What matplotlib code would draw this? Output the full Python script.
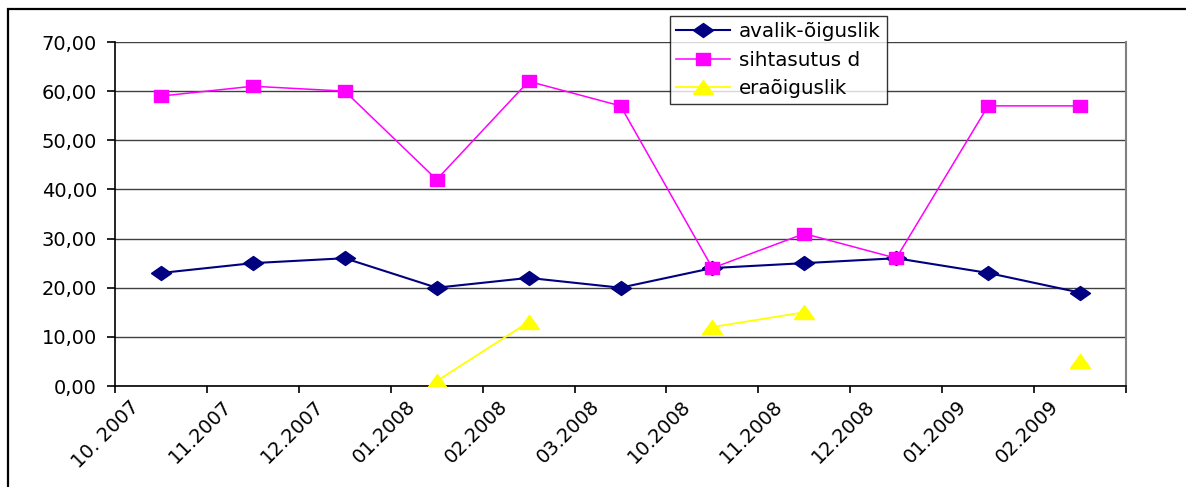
#!/usr/bin/env python3

import matplotlib
matplotlib.use('Agg')
import matplotlib.pyplot as plt
import matplotlib.transforms as mtransforms
from matplotlib.patches import Rectangle
from matplotlib.ticker import FixedLocator, NullFormatter
import numpy as np

months = ['10. 2007', '11.2007', '12.2007', '01.2008', '02.2008', '03.2008',
          '10.2008', '11.2008', '12.2008', '01.2009', '02.2009']
avalik = [23, 25, 26, 20, 22, 20, 24, 25, 26, 23, 19]
sihtasutus = [59, 61, 60, 42, 62, 57, 24, 31, 26, 57, 57]
era = [np.nan, np.nan, np.nan, 1, 13, np.nan, 12, 15, np.nan, np.nan, 5]
series_names = ['avalik-õiguslik', 'sihtasutus d', 'eraõiguslik']
y_ticks = [0, 10, 20, 30, 40, 50, 60, 70]

W, H = 1186, 487
FS = 14.0
plt.rcParams['font.family'] = ['DejaVu Sans']

fig = plt.figure(figsize=(W / 100, H / 100), dpi=100)
ax = fig.add_axes([115 / W, 1 - 386 / H, (1126 - 115) / W, (386 - 42) / H])

# wide markers (the picture is a bit stretched sideways)
diamond = [(-10, 0), (0, 7), (10, 0), (0, -7), (-10, 0)]
square = [(-7, -5.5), (7, -5.5), (7, 5.5), (-7, 5.5), (-7, -5.5)]
triangle = [(-10, -7), (10, -7), (0, 7), (-10, -7)]

x = np.arange(len(months))
ax.plot(x, avalik, color='#000080', lw=1.5, marker=diamond, ms=14.4,
        mec='#000080', mfc='#000080', label=series_names[0], zorder=3)
ax.plot(x, sihtasutus, color='#FF00FF', lw=1.1, marker=square, ms=10.2,
        mec='#FF00FF', mfc='#FF00FF', label=series_names[1], zorder=4)
ax.plot(x, era, color='#FFFF00', lw=1.3, marker=triangle, ms=14.4,
        mec='#FFFF00', mfc='#FFFF00', label=series_names[2], zorder=5)

ax.set_xlim(-0.5, len(months) - 0.5)
ax.set_ylim(0, 70)
ax.set_yticks(y_ticks)
ax.set_yticklabels(['{:.2f}'.format(v).replace('.', ',') for v in y_ticks])
ax.grid(axis='y', color='#404040', lw=1)
ax.set_axisbelow(True)

ax.set_xticks(x)
ax.set_xticklabels(months, rotation=45, ha='right', va='top', rotation_mode='anchor')
ax.xaxis.set_minor_locator(FixedLocator(np.arange(-0.5, len(months), 1)))
ax.xaxis.set_minor_formatter(NullFormatter())
ax.tick_params(axis='x', which='major', length=0, pad=8, labelsize=FS)
ax.tick_params(axis='x', which='minor', length=5, width=1.2, direction='out')
ax.tick_params(axis='y', length=6, width=1.2, pad=7, labelsize=FS)
shift = mtransforms.ScaledTranslation(-31 / 100, 0, fig.dpi_scale_trans)
for lbl in ax.get_xticklabels():
    lbl.set_transform(lbl.get_transform() + shift)

ax.spines['top'].set_visible(False)
ax.spines['right'].set_color('#808080')
ax.spines['right'].set_linewidth(1.5)
ax.spines['left'].set_linewidth(1.2)
ax.spines['bottom'].set_linewidth(1.2)

leg = fig.legend(loc='upper left', bbox_to_anchor=(670 / W, 1 - 16 / H),
                 fontsize=FS + 0.3, frameon=True, fancybox=False, handlelength=2.7,
                 labelspacing=0.47, borderpad=0.32, handletextpad=0.45,
                 borderaxespad=0)
leg.get_frame().set_edgecolor('black')
leg.get_frame().set_linewidth(1)

# outer frame of the chart
fig.patches.append(Rectangle((8 / W, -0.1), 1.2, 1.1 - 9 / H, transform=fig.transFigure,
                             fill=False, edgecolor='black', lw=1.6))

fig.savefig('out.png', dpi=100)
